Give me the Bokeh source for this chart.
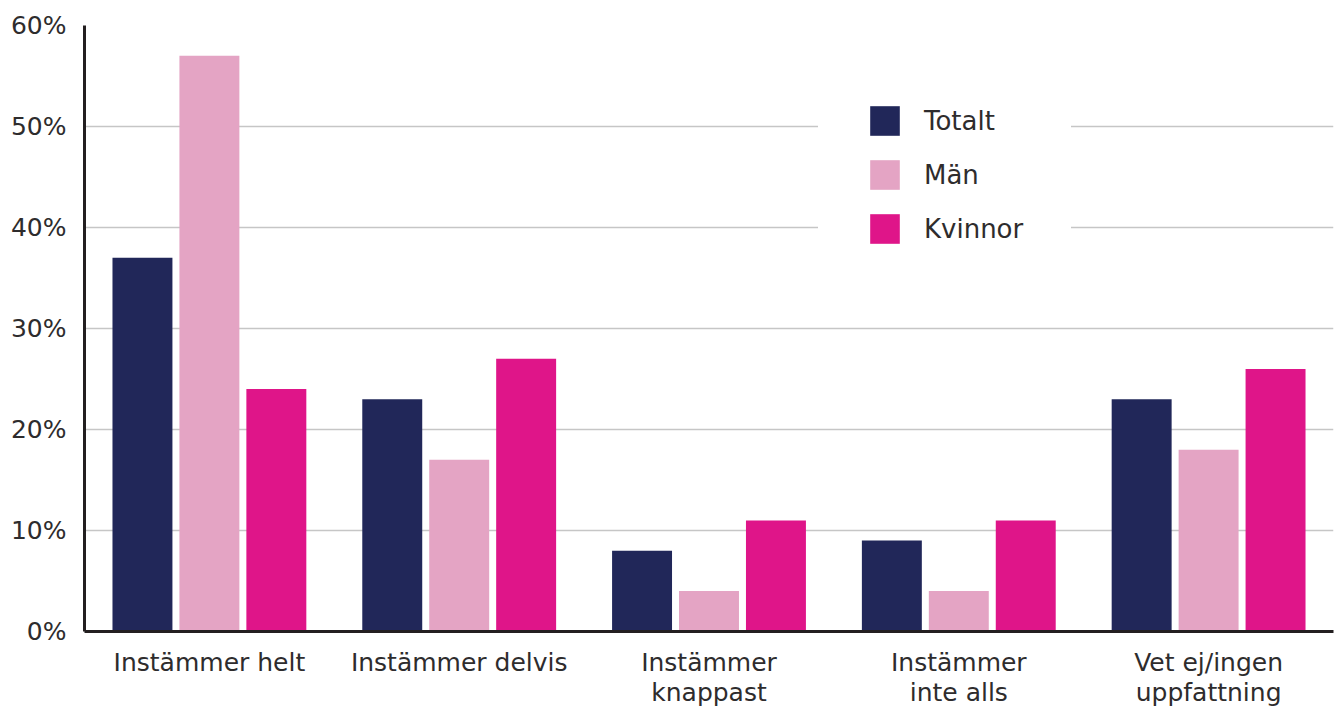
from bokeh.plotting import figure
from bokeh.models import Range1d, FactorRange, FixedTicker, PrintfTickFormatter, Legend, LegendItem, ColumnDataSource
from bokeh.transform import dodge
from bokeh.embed import file_html
from bokeh.resources import INLINE

categories = ["Instämmer helt", "Instämmer delvis", "Instämmer\nknappast",
              "Instämmer\ninte alls", "Vet ej/ingen\nuppfattning"]
totalt = [37, 23, 8, 9, 23]
man = [57, 17, 4, 4, 18]
kvinnor = [24, 27, 11, 11, 26]
series_names = ["Totalt", "Män", "Kvinnor"]
colors = ["#212759", "#E4A4C4", "#DF1589"]
y_ticks = [0, 10, 20, 30, 40, 50, 60]

FONT = "DejaVu Sans"
TEXT = "#2e2c2d"

source = ColumnDataSource(dict(cat=categories, Totalt=totalt, Man=man, Kvinnor=kvinnor))

p = figure(x_range=FactorRange(factors=categories, range_padding=0),
           y_range=Range1d(0, 60),
           frame_width=1249, frame_height=606,
           min_border_left=84, min_border_top=25, min_border_right=2, min_border_bottom=76,
           output_backend="svg", toolbar_location=None)

offsets = [-0.268, 0.0, 0.268]
keys = ["Totalt", "Man", "Kvinnor"]
renderers = []
for k, off, c in zip(keys, offsets, colors):
    r = p.vbar(x=dodge("cat", off, range=p.x_range), top=k, width=0.24, source=source,
               fill_color=c, line_color=None)
    renderers.append(r)

p.outline_line_color = None
p.xgrid.grid_line_color = None
p.ygrid.grid_line_color = "#c6c6c6"
p.ygrid.grid_line_width = 1.5
p.ygrid.ticker = FixedTicker(ticks=y_ticks)

p.yaxis.ticker = FixedTicker(ticks=y_ticks)
p.yaxis.formatter = PrintfTickFormatter(format="%d%%")
for ax in (p.xaxis, p.yaxis):
    ax.axis_line_color = "#231f20"
    ax.axis_line_width = 3
    ax.major_tick_line_color = None
    ax.minor_tick_line_color = None
    ax.major_label_text_font = FONT
    ax.major_label_text_font_size = "25px"
    ax.major_label_text_color = TEXT
p.yaxis.major_label_standoff = 12
p.xaxis.major_label_standoff = 10
p.xaxis.major_label_text_line_height = 1.05

legend = Legend(items=[LegendItem(label=n, renderers=[r]) for n, r in zip(series_names, renderers)],
                location=(734, 336), orientation="vertical",
                glyph_width=37, glyph_height=37, label_height=30, spacing=17,
                label_standoff=21, padding=0, margin=0,
                label_text_font=FONT, label_text_font_size="26px", label_text_color=TEXT,
                border_line_color="white", border_line_width=48,
                background_fill_color="white", background_fill_alpha=1)
p.add_layout(legend)

open("out.html", "w").write(file_html(p, INLINE))
